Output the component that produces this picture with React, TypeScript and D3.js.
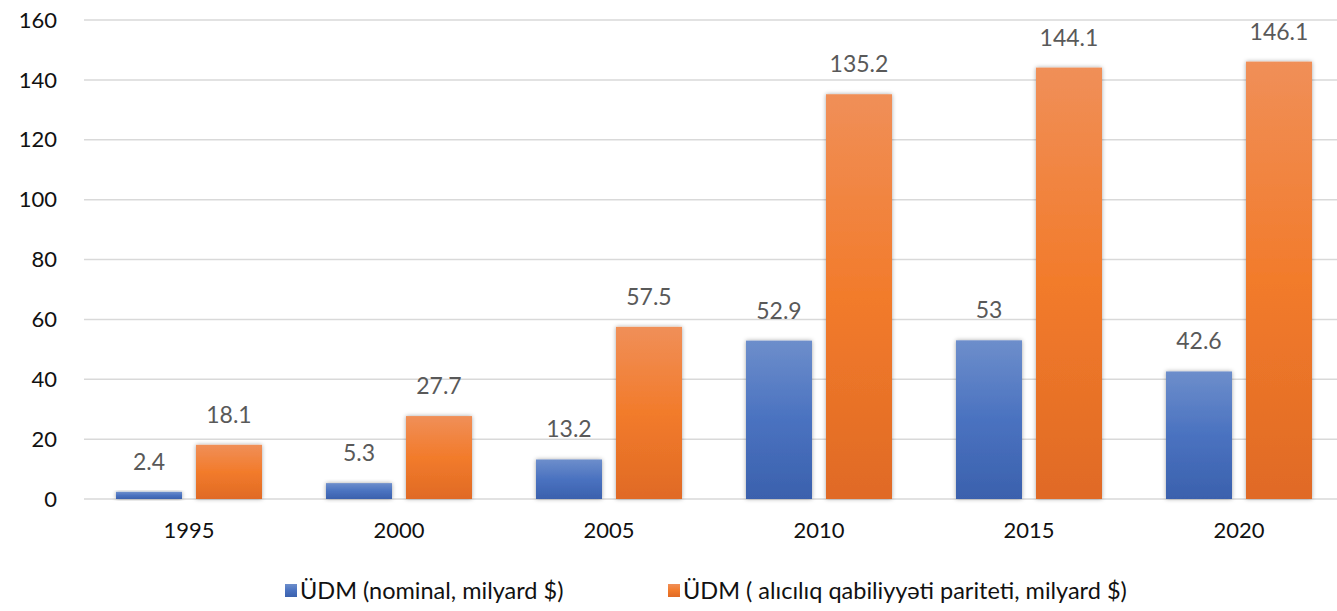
import React from "react";
import * as d3 from "d3";

const years = ["1995", "2000", "2005", "2010", "2015", "2020"];
const nominal = [2.4, 5.3, 13.2, 52.9, 53, 42.6];
const ppp = [18.1, 27.7, 57.5, 135.2, 144.1, 146.1];
const nominalLabels = ["2.4", "5.3", "13.2", "52.9", "53", "42.6"];
const pppLabels = ["18.1", "27.7", "57.5", "135.2", "144.1", "146.1"];
const yTicks = [0, 20, 40, 60, 80, 100, 120, 140, 160];
const seriesNames = ["ÜDM (nominal, milyard $)", "ÜDM ( alıcılıq qabiliyyəti pariteti, milyard $)"];

const W = 1337;
const H = 611;
const FONT = "Lato, 'Open Sans', sans-serif";

export default function App() {
  const x = d3.scaleBand<string>().domain(years).range([84, 1344]);
  const y = d3.scaleLinear().domain([0, 160]).range([499, 20]);
  const bw = 66;

  return (
    <svg width={W} height={H} style={{ position: "absolute", left: 0, top: 0 }}>
      <defs>
        <linearGradient id="gBlue" x1="0" y1="0" x2="0" y2="1">
          <stop offset="0%" stopColor="#6d8ecb" />
          <stop offset="50%" stopColor="#4a72c0" />
          <stop offset="100%" stopColor="#3b61ad" />
        </linearGradient>
        <linearGradient id="gOrange" x1="0" y1="0" x2="0" y2="1">
          <stop offset="0%" stopColor="#f08f58" />
          <stop offset="50%" stopColor="#f27b2b" />
          <stop offset="100%" stopColor="#e06a25" />
        </linearGradient>
        <filter id="shadow" x="-20%" y="-20%" width="140%" height="140%">
          <feDropShadow dx="0" dy="0" stdDeviation="2" floodColor="#000" floodOpacity="0.35" />
        </filter>
      </defs>
      <rect width={W} height={H} fill="#fff" />
      {yTicks.map((t) => (
        <g key={t}>
          <line x1={84} x2={W} y1={y(t)} y2={y(t)} stroke="#d9d9d9" strokeWidth={1.5} />
          <text x={57} y={y(t)} dy="0.35em" textAnchor="end" fontFamily={FONT} fontSize={22} fill="#111">
            {t}
          </text>
        </g>
      ))}
      {years.map((yr, i) => {
        const x0 = x(yr)!;
        const cx = x0 + x.bandwidth() / 2;
        const nx = cx - 7 - bw;
        const px = cx + 7;
        return (
          <g key={yr}>
            <rect x={nx} y={y(nominal[i])} width={bw} height={y(0) - y(nominal[i])} fill="url(#gBlue)" filter="url(#shadow)" />
            <rect x={px} y={y(ppp[i])} width={bw} height={y(0) - y(ppp[i])} fill="url(#gOrange)" filter="url(#shadow)" />
            <text x={nx + bw / 2} y={y(nominal[i]) - 22} textAnchor="middle" fontFamily={FONT} fontSize={23} fill="#595959">
              {nominalLabels[i]}
            </text>
            <text x={px + bw / 2} y={y(ppp[i]) - 22} textAnchor="middle" fontFamily={FONT} fontSize={23} fill="#595959">
              {pppLabels[i]}
            </text>
            <text x={cx} y={530} dy="0.35em" textAnchor="middle" fontFamily={FONT} fontSize={22} fill="#111">
              {yr}
            </text>
          </g>
        );
      })}
      <g>
        <rect x={285} y={584} width={12} height={13} fill="url(#gBlue)" />
        <text x={300} y={591} dy="0.35em" fontFamily={FONT} fontSize={23.5} fill="#111">
          {seriesNames[0]}
        </text>
        <rect x={668} y={584} width={12} height={13} fill="url(#gOrange)" />
        <text x={683} y={591} dy="0.35em" fontFamily={FONT} fontSize={23.5} fill="#111">
          {seriesNames[1]}
        </text>
      </g>
    </svg>
  );
}
